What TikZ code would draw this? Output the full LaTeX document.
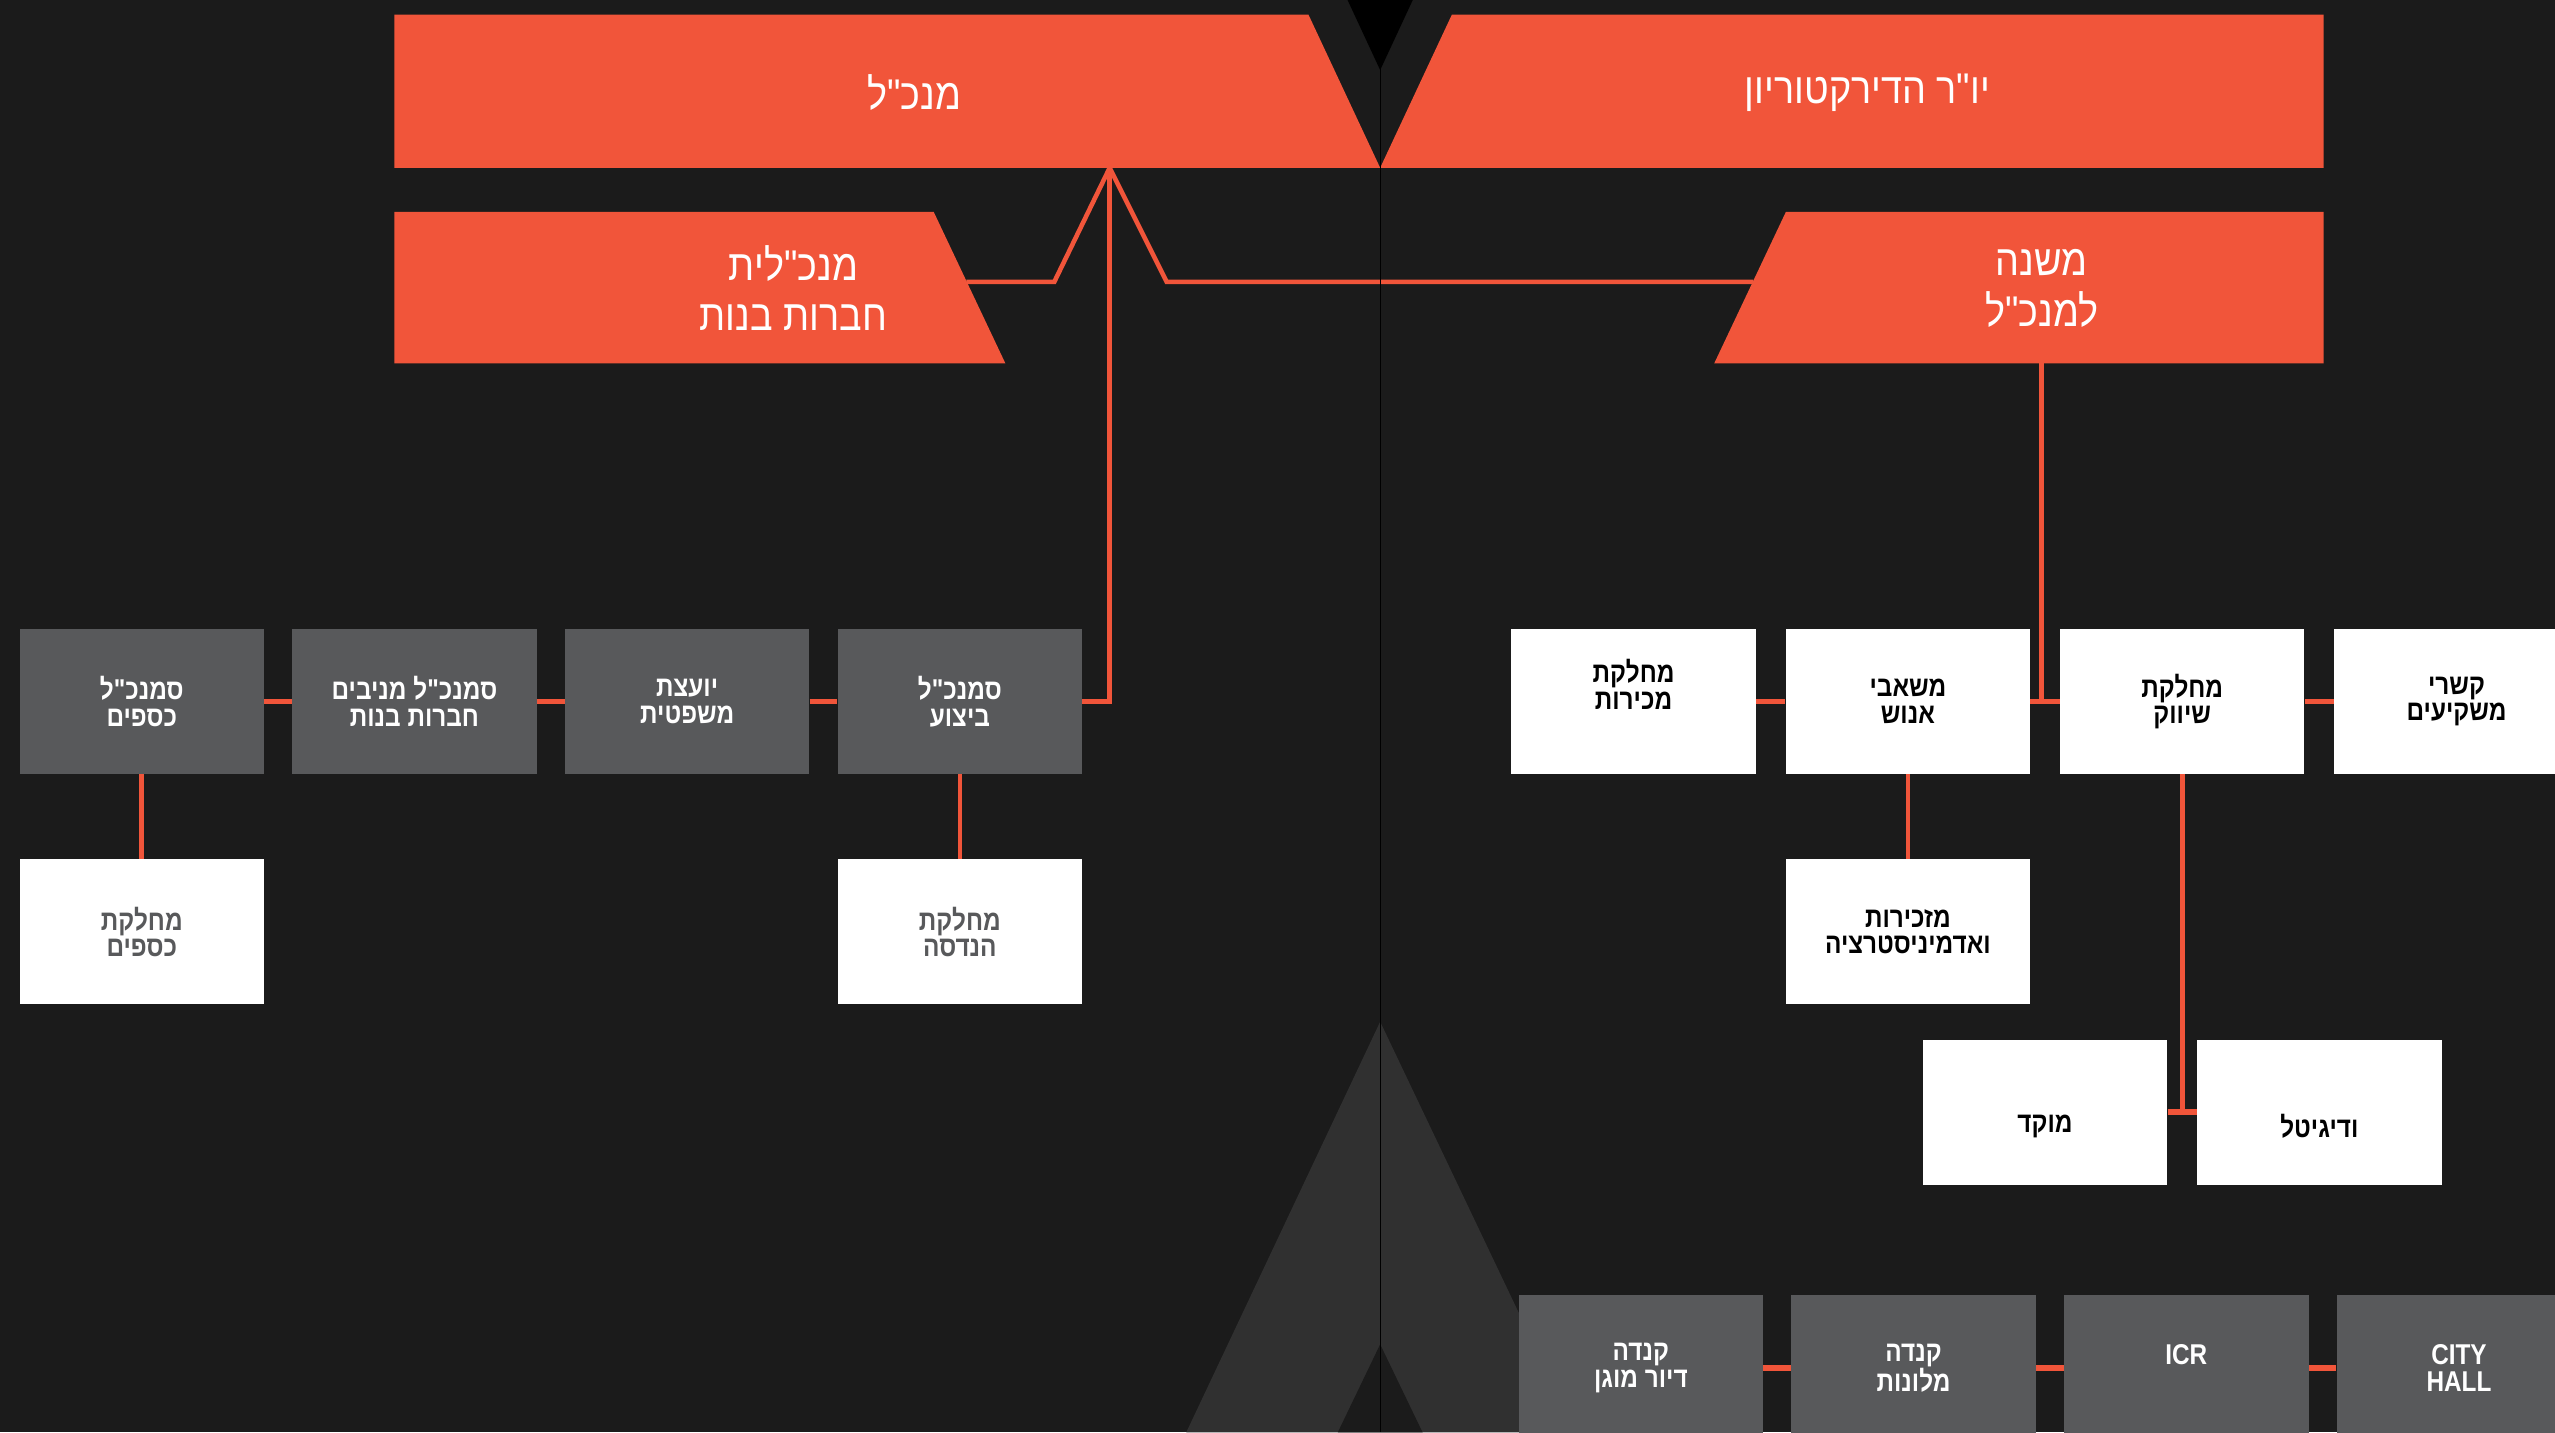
\documentclass[tikz,border=0pt]{standalone}
\usepackage{fontspec}
\usepackage{xcolor}
\usepackage{tikz}
\usetikzlibrary{positioning}
\TeXXeTstate=1
\newfontfamily\hebfont[Script=Hebrew,FakeStretch=0.85]{Liberation Sans}
\newfontfamily\hebthin[Script=Hebrew,FakeStretch=0.88]{Liberation Sans}
\definecolor{orgred}{HTML}{F1553A}
\definecolor{bggray}{HTML}{1B1B1B}
\definecolor{boxgray}{HTML}{58595B}
\definecolor{trigray}{HTML}{303030}
\newcommand{\hebline}[1]{\beginR #1\endR}
\newcommand{\boxfont}{\hebfont\bfseries\fontsize{20}{18.6}\selectfont}
\newcommand{\leadfont}{\hebthin\fontsize{30}{35}\selectfont}

\begin{document}
\begin{tikzpicture}[x=0.4mm,y=-0.4mm]
\tikzset{box/.style={rectangle,inner sep=0pt,minimum width=60mm,
		minimum height=35.6mm,align=center,font=\boxfont},
	gbox/.style={box,fill=boxgray,text=white},
	wbox/.style={box,fill=white,text=black},
	lbox/.style={box,fill=white,text=boxgray},
	lead/.style={fill=orgred},
	leadtext/.style={text=white,align=center,font=\leadfont},
	line/.style={draw=orgred,line width=3.2pt},
	link/.style={draw=orgred,line width=4pt}}

\clip (0,0) rectangle (1568,879);
\fill[bggray] (0,0) rectangle (1568,879);
\fill[trigray] (847,627) -- (967,879) -- (728,879) -- cycle;
\fill[bggray] (847,825) -- (873,879) -- (821,879) -- cycle;
\fill[black] (827,0) -- (867,0) -- (847,43) -- cycle;

\fill[lead] (242,9) -- (803,9) -- (847,103) -- (242,103) -- cycle;
\fill[lead] (891,9) -- (1426,9) -- (1426,103) -- (847,103) -- cycle;
\fill[lead] (242,130) -- (573,130) -- (617,223) -- (242,223) -- cycle;
\fill[lead] (1096,130) -- (1426,130) -- (1426,223) -- (1052,223) -- cycle;

\node[leadtext] (ceo) at (561,57) {\hebline{מנכ"ל}};
\node[leadtext] (chair) at (1146,57) {\hebline{יו"ר הדירקטוריון}};
\node[leadtext] (subs) at (487,177) {\hebline{מנכ"לית}\\\hebline{חברות בנות}};
\node[leadtext] (deputy) at (1253,177) {\hebline{משנה}\\\hebline{למנכ"ל}};

\coordinate (ceoB) at (681,103);
\coordinate (depB) at (1253,223);
\coordinate (subsE) at (593,173);
\coordinate (depW) at (1076,173);

\node[gbox] (ksafim) at (87,430.5) {\hebline{סמנכ"ל}\\\hebline{כספים}};
\node[gbox] (maniv) [right = 6.8mm of ksafim] {\hebline{סמנכ"ל מניבים}\\\hebline{חברות בנות}};
\node[gbox] (yoetzet) [right = 6.8mm of maniv] {\hebline{יועצת}\\\hebline{משפטית}};
\node[gbox] (bitzua) [right = 6.8mm of yoetzet] {\hebline{סמנכ"ל}\\\hebline{ביצוע}};

\node[lbox] (ksafimD) [below = 20.8mm of ksafim] {\hebline{מחלקת}\\\hebline{כספים}};
\node[lbox] (handasa) [below = 20.8mm of bitzua] {\hebline{מחלקת}\\\hebline{הנדסה}};

\node[wbox] (mechirot) at (1002.5,430.5) {\hebline{מחלקת}\\\hebline{מכירות}\\\strut};
\node[wbox] (enosh) [right = 7.2mm of mechirot] {\hebline{משאבי}\\\hebline{אנוש}};
\node[wbox] (shivuk) [right = 7.2mm of enosh] {\hebline{מחלקת}\\\hebline{שיווק}};
\node[wbox] (mashkiim) [right = 7.2mm of shivuk] {\hebline{קשרי}\\\hebline{משקיעים}};

\node[wbox] (admin) [below = 20.8mm of enosh] {\hebline{מזכירות}\\\hebline{ואדמיניסטרציה}};
\node[wbox] (moked) at (1255,682.5) {\strut\\\hebline{מוקד}};
\node[wbox] (digital) [right = 7.2mm of moked] {\strut\\\hebline{ודיגיטל}};

\node[gbox] (diur) at (1007,839.5) {\hebline{קנדה}\\\hebline{דיור מוגן}};
\node[gbox] (malon) [right = 6.8mm of diur] {\hebline{קנדה}\\\hebline{מלונות}};
\node[gbox] (icr) [right = 6.8mm of malon] {ICR\\\mbox{}};
\node[gbox] (city) [right = 6.8mm of icr] {CITY\\HALL};

\draw[line] (subsE) -- (647,173) -- (ceoB) -- (716,173) -- (depW);
\draw[line] (ceoB) |- (bitzua.east);
\draw[line] (depB) -- (depB |- enosh.east);
\draw[line] (ksafim) -- (ksafimD);
\draw[line] (bitzua) -- (handasa);
\draw[line] (enosh) -- (admin);
\draw[line] (shivuk.south) -- (shivuk.south |- moked.east);

\draw[link] (ksafim) -- (maniv);
\draw[link] (maniv) -- (yoetzet);
\draw[link] (yoetzet) -- (bitzua);
\draw[link] (mechirot) -- (enosh);
\draw[link] (enosh) -- (shivuk);
\draw[link] (shivuk) -- (mashkiim);
\draw[link] (moked) -- (digital);
\draw[link] (diur) -- (malon);
\draw[link] (malon) -- (icr);
\draw[link] (icr) -- (city);

\draw[black,line width=0.8pt] (847,0) -- (847,879);
\end{tikzpicture}
\end{document}
